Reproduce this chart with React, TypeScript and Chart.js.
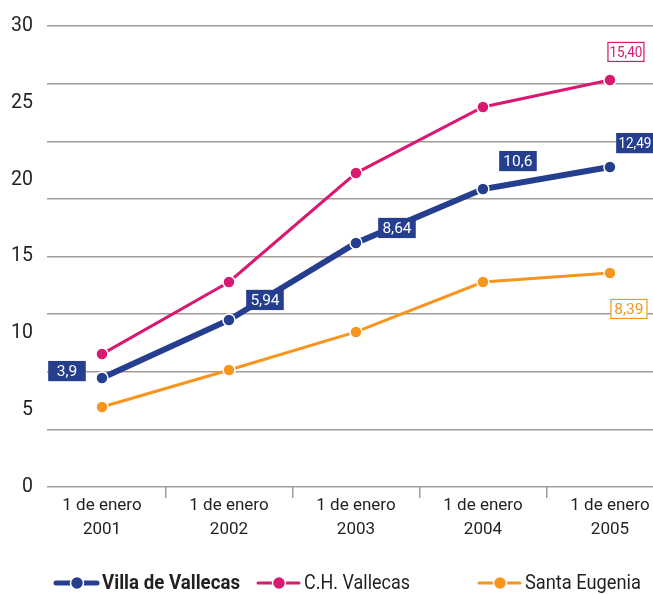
import { useEffect, useRef } from 'react';
import { Chart, registerables } from 'chart.js';

Chart.register(...registerables);

const years = [2001, 2002, 2003, 2004, 2005];
const categoryLabels = [
  ['1 de enero', '2001'],
  ['1 de enero', '2002'],
  ['1 de enero', '2003'],
  ['1 de enero', '2004'],
  ['1 de enero', '2005'],
];
const villaValues = [7.09, 10.87, 15.88, 19.39, 20.82];
const chValues = [8.65, 13.34, 20.43, 24.73, 26.49];
const santaValues = [5.21, 7.61, 10.09, 13.34, 13.93];

const villaLabels = ['3,9', '5,94', '8,64', '10,6', '12,49'];
const chLabels = ['', '', '', '', '15,40'];
const santaLabels = ['', '', '', '', '8,39'];

const yTickLabels = [0, 5, 10, 15, 20, 25, 30];
const yGridValues = [0, 3.75, 7.5, 11.25, 15, 18.75, 22.5, 26.25, 30];

const seriesNames = ['Villa de Vallecas', 'C.H. Vallecas', 'Santa Eugenia'];

const BLUE = '#263e8e';
const PINK = '#d9186f';
const ORANGE = '#f7951f';
const GRID = '#a39b96';
const TEXT = '#231f20';
const FONT = 'Roboto, "Liberation Sans", Arial, sans-serif';

// label box offsets from the point (styling only)
const villaOffsets = [[-35, -7], [36, -20], [41, -15], [35, -28], [25, -24]];
const chOffsets = [[0, 0], [0, 0], [0, 0], [0, 0], [16, -28]];
const santaOffsets = [[0, 0], [0, 0], [0, 0], [0, 0], [19, 36]];

const labelPlugin = {
  id: 'boxLabels',
  afterDatasetsDraw(chart: any) {
    const ctx = chart.ctx;
    const cfgs = [
      { labels: villaLabels, offs: villaOffsets, fill: BLUE, stroke: BLUE, text: '#ffffff' },
      { labels: chLabels, offs: chOffsets, fill: '#ffffff', stroke: PINK, text: PINK },
      { labels: santaLabels, offs: santaOffsets, fill: '#ffffff', stroke: ORANGE, text: ORANGE },
    ];
    ctx.save();
    ctx.font = `15.5px ${FONT}`;
    ctx.textAlign = 'center';
    ctx.textBaseline = 'middle';
    cfgs.forEach((c, di) => {
      const meta = chart.getDatasetMeta(di);
      c.labels.forEach((lab, j) => {
        if (!lab) return;
        const p = meta.data[j];
        const cx = p.x + c.offs[j][0];
        const cy = p.y + c.offs[j][1];
        const w = 37;
        const h = 20;
        ctx.fillStyle = c.fill;
        ctx.fillRect(cx - w / 2, cy - h / 2, w, h);
        ctx.strokeStyle = c.stroke;
        ctx.lineWidth = 1.2;
        ctx.strokeRect(cx - w / 2 + 0.5, cy - h / 2 + 0.5, w - 1, h - 1);
        ctx.fillStyle = c.text;
        ctx.fillText(lab, cx, cy + 1, 33);
      });
    });
    ctx.restore();
  },
};

const legendPlugin = {
  id: 'customLegend',
  afterDraw(chart: any) {
    const ctx = chart.ctx;
    const items = [
      { x: 56, color: BLUE, lw: 5, bold: true, name: seriesNames[0], tx: 102, tw: 138 },
      { x: 258, color: PINK, lw: 3, bold: false, name: seriesNames[1], tx: 304, tw: 106 },
      { x: 479, color: ORANGE, lw: 3, bold: false, name: seriesNames[2], tx: 525, tw: 116 },
    ];
    const y = 583;
    ctx.save();
    items.forEach((it) => {
      ctx.strokeStyle = it.color;
      ctx.lineWidth = it.lw;
      ctx.lineCap = 'round';
      ctx.beginPath();
      ctx.moveTo(it.x, y);
      ctx.lineTo(it.x + 41, y);
      ctx.stroke();
      ctx.beginPath();
      ctx.arc(it.x + 21, y, 6.5, 0, Math.PI * 2);
      ctx.fillStyle = it.color;
      ctx.fill();
      ctx.lineWidth = 1.5;
      ctx.strokeStyle = '#ffffff';
      ctx.stroke();
      ctx.fillStyle = TEXT;
      ctx.font = `${it.bold ? 'bold ' : ''}21px ${FONT}`;
      ctx.textAlign = 'left';
      ctx.textBaseline = 'middle';
      ctx.fillText(it.name, it.tx, y + 1, it.tw);
    });
    ctx.restore();
  },
};

export default function App() {
  const ref = useRef<HTMLCanvasElement | null>(null);

  useEffect(() => {
    if (!ref.current) return;
    const mk = (vals: number[]) => years.map((x, i) => ({ x, y: vals[i] }));
    const allYTicks = Array.from(new Set([...yTickLabels, ...yGridValues])).sort((a, b) => a - b);
    const xTicks: number[] = [];
    years.forEach((y, i) => {
      xTicks.push(y);
      if (i < years.length - 1) xTicks.push(y + 0.5);
    });

    const lineDs = (label: string, vals: number[], color: string, width: number) => ({
      label,
      data: mk(vals),
      borderColor: color,
      backgroundColor: color,
      borderWidth: width,
      pointRadius: 6,
      pointBorderColor: '#ffffff',
      pointBorderWidth: 1.5,
      pointBackgroundColor: color,
      tension: 0,
    });

    const chart = new Chart(ref.current, {
      type: 'line',
      data: {
        datasets: [
          lineDs(seriesNames[0], villaValues, BLUE, 6),
          lineDs(seriesNames[1], chValues, PINK, 3),
          lineDs(seriesNames[2], santaValues, ORANGE, 3),
        ],
      },
      options: {
        responsive: false,
        animation: false,
        devicePixelRatio: 1,
        layout: { autoPadding: false, padding: { top: 26, right: 0, left: 0, bottom: 0 } },
        plugins: {
          legend: { display: false },
          tooltip: { enabled: false },
        },
        scales: {
          x: {
            type: 'linear',
            min: 2000.567,
            max: 2005.339,
            afterFit: (s: any) => {
              s.height = 108;
              s.paddingLeft = 0;
              s.paddingRight = 0;
            },
            afterBuildTicks: (s: any) => {
              s.ticks = xTicks.map((v) => ({ value: v }));
            },
            border: { display: false },
            grid: {
              drawOnChartArea: false,
              drawTicks: true,
              tickLength: 11,
              lineWidth: 1.5,
              tickColor: (c: any) => (c.tick && c.tick.value % 1 !== 0 ? GRID : 'rgba(0,0,0,0)'),
            },
            ticks: {
              autoSkip: false,
              maxRotation: 0,
              padding: -4,
              color: TEXT,
              font: { family: FONT, size: 17, lineHeight: 1.4 },
              callback: (v: any) => {
                const idx = years.indexOf(Number(v));
                return idx >= 0 ? categoryLabels[idx] : '';
              },
            },
          },
          y: {
            min: 0,
            max: 30,
            afterFit: (s: any) => {
              s.width = 47;
              s.paddingTop = 0;
              s.paddingBottom = 0;
            },
            afterBuildTicks: (s: any) => {
              s.ticks = allYTicks.map((v) => ({ value: v }));
            },
            border: { display: false },
            grid: {
              drawTicks: false,
              lineWidth: 1.5,
              color: (c: any) =>
                c.tick && yGridValues.includes(c.tick.value) ? GRID : 'rgba(0,0,0,0)',
            },
            ticks: {
              autoSkip: false,
              padding: 14,
              color: TEXT,
              font: { family: FONT, size: 19.5 },
              callback: (v: any) => (yTickLabels.includes(Number(v)) ? String(v) : ''),
            },
          },
        },
      },
      plugins: [labelPlugin, legendPlugin],
    } as any);

    return () => chart.destroy();
  }, []);

  return (
    <div style={{ position: 'absolute', left: 0, top: 0, width: 653, height: 595, background: '#ffffff' }}>
      <canvas ref={ref} width={653} height={595} style={{ width: 653, height: 595, display: 'block' }} />
    </div>
  );
}
